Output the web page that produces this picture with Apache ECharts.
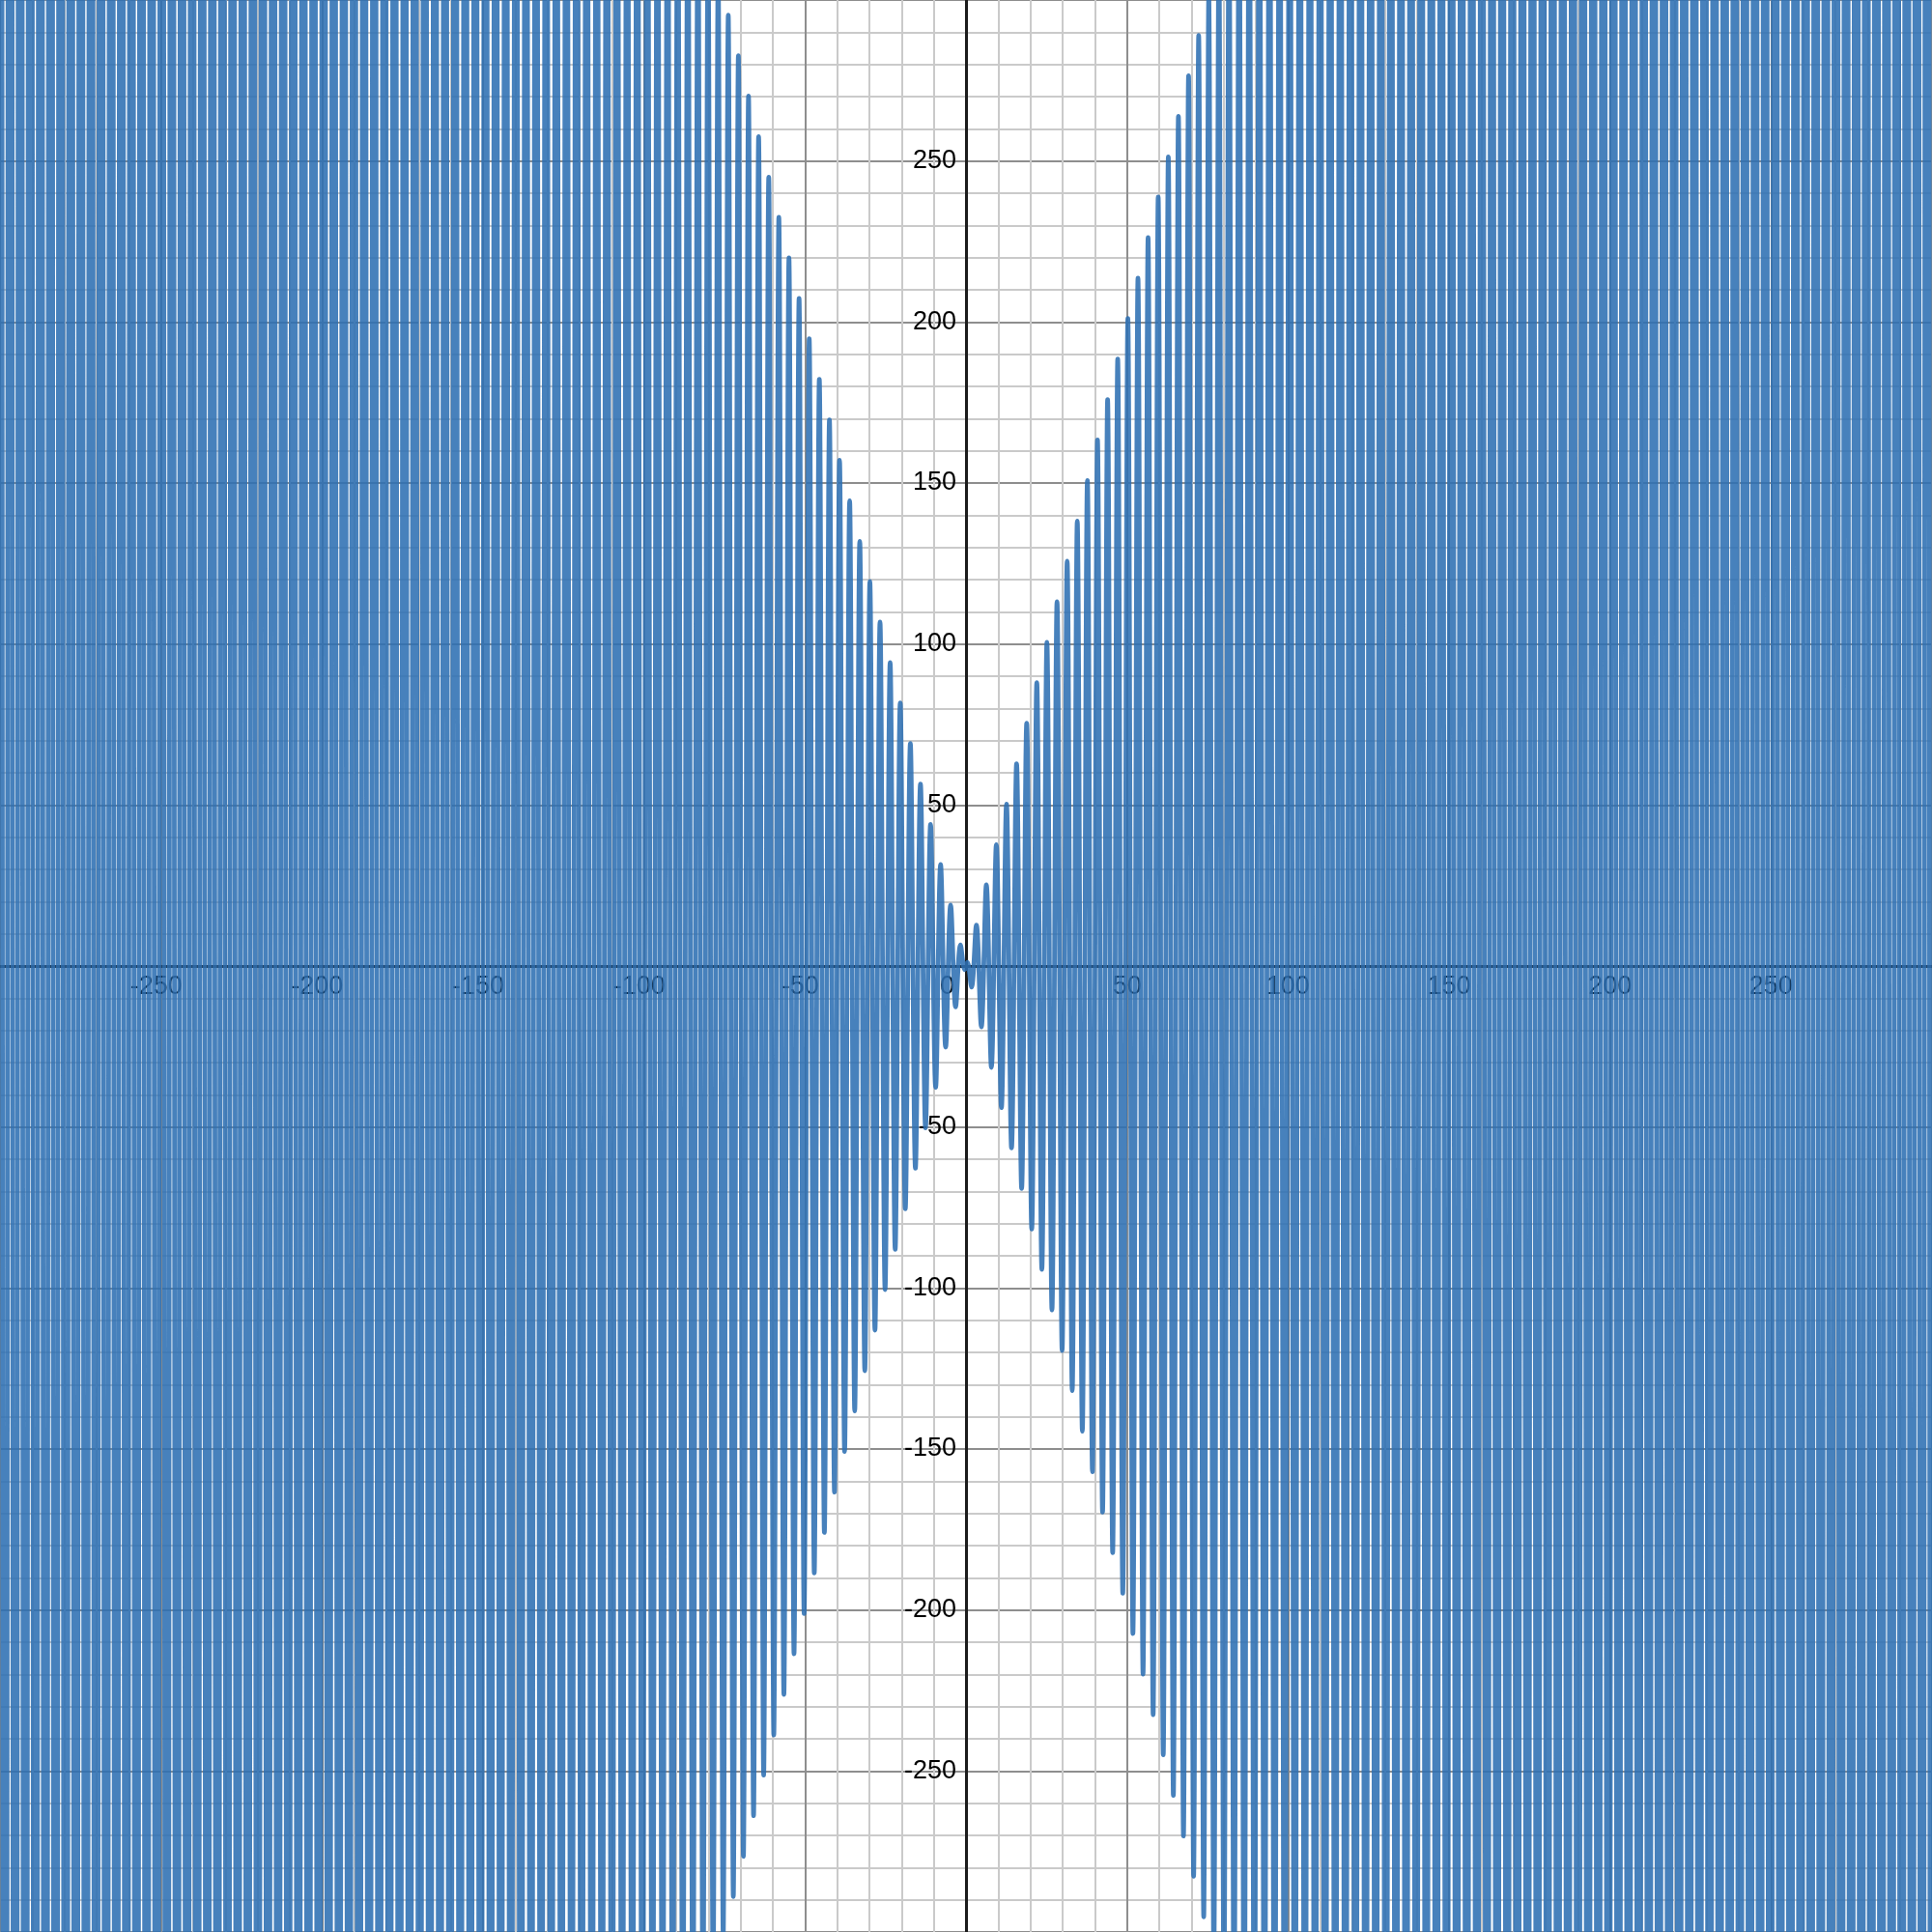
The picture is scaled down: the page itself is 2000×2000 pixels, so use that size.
<!DOCTYPE html>
<html>
<head>
<meta charset="utf-8">
<script src="https://cdn.jsdelivr.net/npm/echarts@6/dist/echarts.min.js"></script>
<style>
html, body { margin: 0; padding: 0; background: #fff; }
#main { width: 2000px; height: 2000px; }
</style>
</head>
<body>
<div id="main"></div>
<script>
// turning points of the curve for x >= 0; the curve is odd, left half is mirrored
var peakX = [0.43, 1.715, 3.22, 4.765, 6.32, 7.886, 9.42, 11.00, 12.57, 14.14, 15.71, 17.28, 18.85, 20.42, 21.99, 23.56, 25.13, 26.70, 28.27, 29.85,
    31.42, 32.99, 34.56, 36.13, 37.70, 39.27, 40.84, 42.41, 43.98, 45.55, 47.12, 48.69, 50.27, 51.84, 53.41, 54.98, 56.55, 58.12, 59.69, 61.26,
    62.83, 64.40, 65.97, 67.54, 69.12, 70.69, 72.26, 73.83, 75.40, 76.97, 78.54, 80.11, 81.68, 83.25, 84.82, 86.39, 87.96, 89.54, 91.11, 92.68,
    94.25, 95.82, 97.39, 98.96, 100.53, 102.10, 103.67, 105.24, 106.81, 108.38, 109.96, 111.53, 113.10, 114.67, 116.24, 117.81, 119.38, 120.95, 122.52, 124.09,
    125.66, 127.23, 128.81, 130.38, 131.95, 133.52, 135.09, 136.66, 138.23, 139.80, 141.37, 142.94, 144.51, 146.08, 147.65, 149.23, 150.80, 152.37, 153.94, 155.51,
    157.08, 158.65, 160.22, 161.79, 163.36, 164.93, 166.50, 168.08, 169.65, 171.22, 172.79, 174.36, 175.93, 177.50, 179.07, 180.64, 182.21, 183.78, 185.35, 186.92,
    188.50, 190.07, 191.64, 193.21, 194.78, 196.35, 197.92, 199.49, 201.06, 202.63, 204.20, 205.77, 207.35, 208.92, 210.49, 212.06, 213.63, 215.20, 216.77, 218.34,
    219.91, 221.48, 223.05, 224.62, 226.19, 227.77, 229.34, 230.91, 232.48, 234.05, 235.62, 237.19, 238.76, 240.33, 241.90, 243.47, 245.04, 246.62, 248.19, 249.76,
    251.33, 252.90, 254.47, 256.04, 257.61, 259.18, 260.75, 262.32, 263.89, 265.46, 267.04, 268.61, 270.18, 271.75, 273.32, 274.89, 276.46, 278.03, 279.60, 281.17,
    282.74, 284.31, 285.88, 287.46, 289.03, 290.60, 292.17, 293.74, 295.31, 296.88, 298.45, 300.02, 301.59];
var peakY = [1.12, -6.58, 12.71, -18.95, 25.21, -31.5, 37.7, -44.0, 50.3, -56.5, 62.8, -69.1, 75.4, -81.7, 88.0, -94.2, 100.5, -106.8, 113.1, -119.4,
    125.7, -131.9, 138.2, -144.5, 150.8, -157.1, 163.4, -169.6, 175.9, -182.2, 188.5, -194.8, 201.1, -207.3, 213.6, -219.9, 226.2, -232.5, 238.8, -245.0,
    251.3, -257.6, 263.9, -270.2, 276.5, -282.7, 289.0, -295.3, 301.6, -307.9, 314.2, -320.4, 326.7, -333.0, 339.3, -345.6, 351.9, -358.1, 364.4, -370.7,
    377.0, -383.3, 389.6, -395.8, 402.1, -408.4, 414.7, -421.0, 427.3, -433.5, 439.8, -446.1, 452.4, -458.7, 465.0, -471.2, 477.5, -483.8, 490.1, -496.4,
    502.7, -508.9, 515.2, -521.5, 527.8, -534.1, 540.4, -546.6, 552.9, -559.2, 565.5, -571.8, 578.1, -584.3, 590.6, -596.9, 603.2, -609.5, 615.8, -622.0,
    628.3, -634.6, 640.9, -647.2, 653.5, -659.7, 666.0, -672.3, 678.6, -684.9, 691.2, -697.4, 703.7, -710.0, 716.3, -722.6, 728.8, -735.1, 741.4, -747.7,
    754.0, -760.3, 766.5, -772.8, 779.1, -785.4, 791.7, -798.0, 804.2, -810.5, 816.8, -823.1, 829.4, -835.7, 841.9, -848.2, 854.5, -860.8, 867.1, -873.4,
    879.6, -885.9, 892.2, -898.5, 904.8, -911.1, 917.3, -923.6, 929.9, -936.2, 942.5, -948.8, 955.0, -961.3, 967.6, -973.9, 980.2, -986.5, 992.7, -999.0,
    1005.3, -1011.6, 1017.9, -1024.2, 1030.4, -1036.7, 1043.0, -1049.3, 1055.6, -1061.9, 1068.1, -1074.4, 1080.7, -1087.0, 1093.3, -1099.6, 1105.8, -1112.1, 1118.4, -1124.7,
    1131.0, -1137.3, 1143.5, -1149.8, 1156.1, -1162.4, 1168.7, -1175.0, 1181.2, -1187.5, 1193.8, -1200.1, 1206.4];

var axisMin = -300;
var axisMax = 300;
var step = 50;

var labelFont = "'Liberation Sans', Arial, sans-serif";

function buildPoints() {
    var pts = [];
    for (var i = peakX.length - 1; i >= 0; i--) {
        pts.push([-peakX[i], -peakY[i]]);
    }
    pts.push([0, 0]);
    for (var j = 0; j < peakX.length; j++) {
        pts.push([peakX[j], peakY[j]]);
    }
    return pts;
}

function axisOf(isX) {
    return {
        type: 'value',
        position: isX ? 'bottom' : 'left',
        // axes sit in the middle of the 2000px canvas, crossing at (0,0)
        offset: -1000,
        min: axisMin,
        max: axisMax,
        interval: step,
        axisLine: {
            onZero: false,
            lineStyle: { color: '#1c1c1c', width: 3 }
        },
        axisTick: { show: false },
        axisLabel: {
            showMinLabel: false,
            showMaxLabel: false,
            fontSize: 27,
            fontFamily: labelFont,
            color: '#000',
            margin: isX ? 8 : 10,
            formatter: function (v) {
                if (v === 0) {
                    return isX ? '{z|0}' : '';
                }
                // x labels: digits centred on the grid line, minus sign hangs left
                if (isX && v < 0) {
                    return '{n|' + v + '}';
                }
                return String(v);
            },
            rich: {
                z: { fontSize: 27, fontFamily: labelFont, color: '#000', padding: [0, 39, 0, 0] },
                n: { fontSize: 27, fontFamily: labelFont, color: '#000', padding: [0, 10, 0, 0] }
            }
        },
        splitLine: {
            show: true,
            lineStyle: { color: '#8e8e8e', width: 2 }
        },
        minorTick: { show: false, splitNumber: 5 },
        minorSplitLine: {
            show: true,
            lineStyle: { color: '#cacaca', width: 2 }
        }
    };
}

var chart = echarts.init(document.getElementById('main'));
var option = {
    backgroundColor: '#fff',
    animation: false,
    grid: { left: 0, right: 0, top: 0, bottom: 0, containLabel: false, outerBoundsMode: 'none' },
    xAxis: axisOf(true),
    yAxis: axisOf(false),
    series: [{
        type: 'line',
        data: buildPoints(),
        showSymbol: false,
        smooth: 0.35,
        clip: true,
        silent: true,
        lineStyle: {
            color: '#2d70b3',
            width: 4.8,
            opacity: 0.88,
            cap: 'round',
            join: 'round'
        }
    }]
};
chart.setOption(option);
</script>
</body>
</html>
